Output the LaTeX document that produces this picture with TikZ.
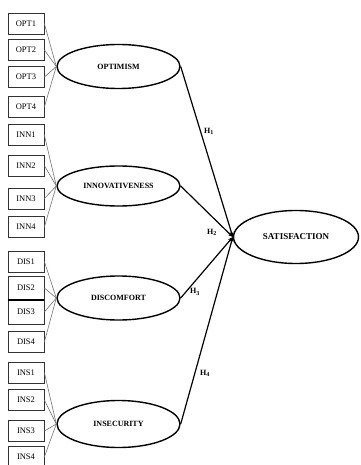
\documentclass[tikz,border=0pt]{standalone}
\usepackage{fontspec}
\setmainfont{Liberation Serif}
\usetikzlibrary{shapes.geometric,arrows.meta}
\begin{document}
\begin{tikzpicture}[x=1pt,y=-1pt,
  ind/.style={draw=black!80,line width=0.7pt,minimum width=36pt,minimum height=21pt,inner sep=0pt,font=\fontsize{8.5}{9}\selectfont},
  lat/.style={ellipse,draw,line width=1.4pt,minimum width=123pt,minimum height=44pt,inner sep=0pt,font=\fontsize{8}{9}\selectfont\bfseries},
  load/.style={draw=black!55,line width=0.6pt},
  path/.style={draw,line width=1.2pt,-{Stealth[length=5pt,width=4pt]}},
  hl/.style={font=\fontsize{8}{8}\selectfont\bfseries,inner sep=0pt}]
\useasboundingbox (0,0) rectangle (360,465);
\clip (0,0) rectangle (360,465);
% indicators
\node[ind] (opt1) at (26,23.5) {OPT1};
\node[ind] (opt2) at (26,50) {OPT2};
\node[ind] (opt3) at (26,77) {OPT3};
\node[ind] (opt4) at (26,107) {OPT4};
\node[ind] (inn1) at (26,135) {INN1};
\node[ind] (inn2) at (26,165.5) {INN2};
\node[ind] (inn3) at (26,198.5) {INN3};
\node[ind] (inn4) at (26,227) {INN4};
\node[ind] (dis1) at (26,261.5) {DIS1};
\node[ind,minimum height=24pt] (dis2) at (26,288) {DIS2};
\node[ind,minimum height=24pt] (dis3) at (26,312) {DIS3};
\node[ind] (dis4) at (26,342) {DIS4};
\node[ind] (ins1) at (26,372.5) {INS1};
\node[ind] (ins2) at (26,400) {INS2};
\node[ind] (ins3) at (26,431) {INS3};
\node[ind] (ins4) at (26,457) {INS4};
\draw[line width=2pt] (dis2.south west) -- (dis2.south east);
% latent variables
\node[lat] (opt) at (118.5,66.5) {OPTIMISM};
\node[lat,minimum height=40pt] (inn) at (118.5,186) {INNOVATIVENESS};
\node[lat] (dis) at (118.5,298) {DISCOMFORT};
\node[lat,minimum height=47pt] (ins) at (118.5,424) {INSECURITY};
\node[lat,minimum width=125pt,minimum height=53pt,font=\fontsize{9}{10}\selectfont\bfseries] (sat) at (296,237) {SATISFACTION};
% loadings
\foreach \i in {1,...,4}{
  \draw[load] (opt\i.east) -- (opt.west);
  \draw[load] (inn\i.east) -- (inn.west);
  \draw[load] (dis\i.east) -- (dis.west);
  \draw[load] (ins\i.east) -- (ins.west);
}
% structural paths
\draw[path] (opt.east) -- (sat.west);
\draw[path] (inn.east) -- (sat.west);
\draw[path] (dis.east) -- (sat.west);
\draw[path] (ins.east) -- (sat.west);
% hypothesis labels
\node[hl] (h1) at (209,131) {H\textsubscript{1}};
\node[hl] (h2) at (212,232) {H\textsubscript{2}};
\node[hl] (h3) at (195,292) {H\textsubscript{3}};
\node[hl] (h4) at (205,373) {H\textsubscript{4}};
\end{tikzpicture}
\end{document}
